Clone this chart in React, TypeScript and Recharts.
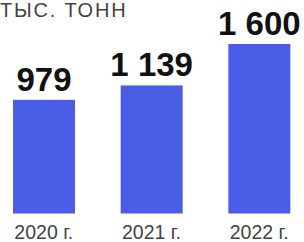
import React from 'react';
import { BarChart, Bar, XAxis, YAxis, LabelList } from 'recharts';

const categories = ['2020 г.', '2021 г.', '2022 г.'];
const volumes = [979, 1139, 1600];
const unitLabel = 'ТЫС. ТОНН';

const data = categories.map((year, i) => ({ year, value: volumes[i] }));

const fmt = (v: number) => String(v).replace(/\B(?=(\d{3})+(?!\d))/g, ' ');

const FONT = '"Liberation Sans", Arial, sans-serif';
const BLUE = '#4a5de6';

const BarShape = (props: any) => {
  const { x, y, width, background } = props;
  const bottom = background ? background.y + background.height : y + props.height;
  return <rect x={x} y={y} width={width} height={bottom - y} fill={BLUE} />;
};

const Tick = (props: any) => {
  const { x, y, payload } = props;
  return (
    <text x={x} y={y} dy={25} textAnchor="middle" fill="#444" fontSize={19.5} fontFamily={FONT}>
      {payload.value}
    </text>
  );
};

export default function App() {
  return (
    <div style={{ position: 'absolute', left: 0, top: 0, width: 304, height: 242, background: '#fff' }}>
      <BarChart
        width={304}
        height={242}
        data={data}
        margin={{ top: 44, right: -9, bottom: 0, left: -10 }}
      >
        <XAxis
          dataKey="year"
          axisLine={false}
          tickLine={false}
          tickSize={0}
          tickMargin={0}
          height={28.5}
          tick={<Tick />}
          interval={0}
        />
        <YAxis hide domain={[-286, 1600]} />
        <Bar dataKey="value" barSize={62} isAnimationActive={false} shape={<BarShape />}>
          <LabelList
            dataKey="value"
            position="top"
            offset={9}
            formatter={(v: any) => fmt(Number(v))}
            fill="#111"
            fontSize={33}
            fontWeight="bold"
            fontFamily={FONT}
          />
        </Bar>
      </BarChart>
      <svg width={304} height={30} style={{ position: 'absolute', left: 0, top: 0, overflow: 'visible' }}>
        <text x={0} y={17} fill="#444" fontSize={20} fontFamily={FONT} letterSpacing={1.8}>
          {unitLabel}
        </text>
      </svg>
    </div>
  );
}
